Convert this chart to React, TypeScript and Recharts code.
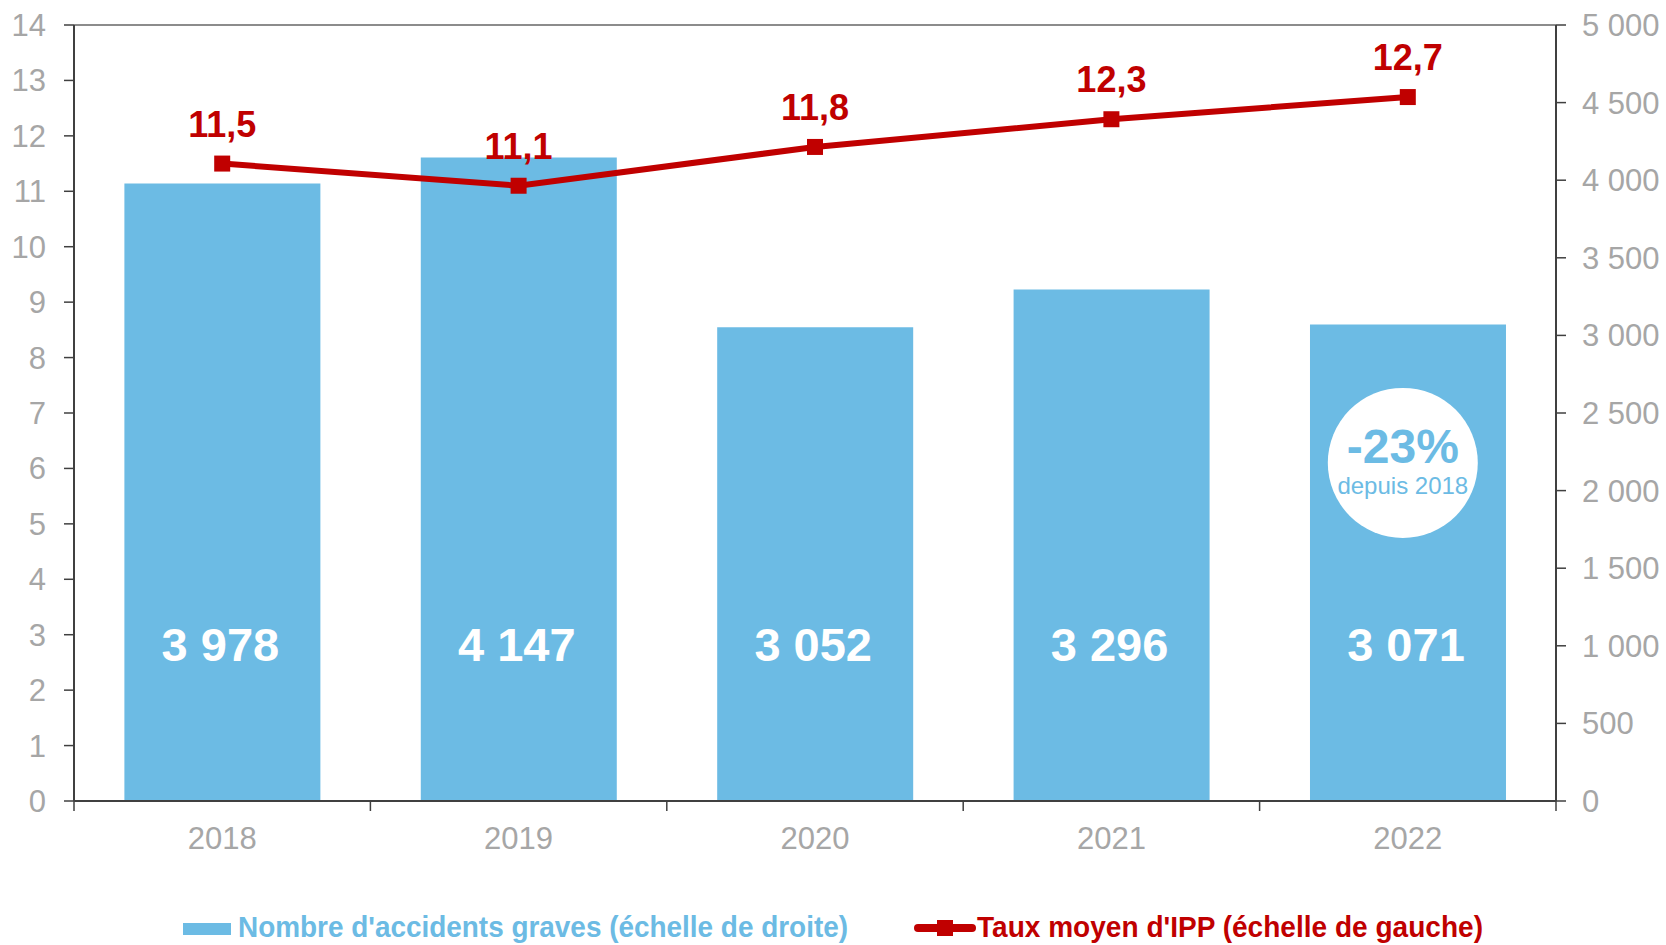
import {
  ComposedChart,
  Bar,
  Line,
  XAxis,
  YAxis,
  Legend,
  LabelList,
  ReferenceLine,
  ReferenceDot,
} from "recharts";

const years = ["2018", "2019", "2020", "2021", "2022"];
const accidents = [3978, 4147, 3052, 3296, 3071];
const ippRate = [11.5, 11.1, 11.8, 12.3, 12.7];
const leftTicks = [0, 1, 2, 3, 4, 5, 6, 7, 8, 9, 10, 11, 12, 13, 14];
const rightTicks = [0, 500, 1000, 1500, 2000, 2500, 3000, 3500, 4000, 4500, 5000];
const badgeMain = "-23%";
const badgeSub = "depuis 2018";

const BLUE = "#6cbbe4";
const RED = "#c00000";
const GREY = "#a6a6a6";
const AXIS = "#404040";
const FONT = "'Liberation Sans', Arial, sans-serif";

const W = 1666;
const H = 945;
const BAND = (1556 - 74) / years.length;

const data = years.map((year, i) => ({
  year,
  accidents: accidents[i],
  ipp: ippRate[i],
}));

const thousands = (v: number) =>
  String(v).replace(/\B(?=(\d{3})+(?!\d))/g, " ");
const comma = (v: number) => v.toFixed(1).replace(".", ",");

const XTick = (props: any) => {
  const { x, y, payload, index } = props;
  const left = x - BAND / 2;
  return (
    <g>
      <line x1={left} x2={left} y1={y} y2={y + 10} stroke={AXIS} strokeWidth={1.5} />
      {index === years.length - 1 && (
        <line x1={left + BAND} x2={left + BAND} y1={y} y2={y + 10} stroke={AXIS} strokeWidth={1.5} />
      )}
      <text
        x={x}
        y={y + 37}
        textAnchor="middle"
        dominantBaseline="central"
        fill={GREY}
        fontSize={31}
        fontFamily={FONT}
      >
        {payload.value}
      </text>
    </g>
  );
};

const BarLabel = (props: any) => {
  const x = Number(props.x);
  const y = Number(props.y);
  const width = Number(props.width);
  const height = Number(props.height);
  return (
    <text
      x={x + width / 2 - 2}
      y={y + height - 157}
      textAnchor="middle"
      dominantBaseline="central"
      fill="#ffffff"
      fontSize={47}
      fontWeight="bold"
      fontFamily={FONT}
    >
      {thousands(Number(props.value))}
    </text>
  );
};

const LineLabel = (props: any) => (
  <text
    x={Number(props.x)}
    y={Number(props.y) - 27}
    textAnchor="middle"
    fill={RED}
    fontSize={36}
    fontWeight="bold"
    fontFamily={FONT}
  >
    {comma(Number(props.value))}
  </text>
);

const SquareDot = (props: any) => {
  const { cx, cy, index } = props;
  return <rect key={`sq-${index}`} x={cx - 8} y={cy - 8} width={16} height={16} fill={RED} />;
};

const Badge = (props: any) => {
  const cx = props.cx - 5;
  const cy = props.cy;
  return (
    <g>
      <circle cx={cx} cy={cy} r={75} fill="#ffffff" />
      <text
        x={cx}
        y={cy - 16}
        textAnchor="middle"
        dominantBaseline="central"
        fill={BLUE}
        fontSize={48}
        fontWeight="bold"
        fontFamily={FONT}
      >
        {badgeMain}
      </text>
      <text
        x={cx}
        y={cy + 23}
        textAnchor="middle"
        dominantBaseline="central"
        fill={BLUE}
        fontSize={24}
        fontFamily={FONT}
      >
        {badgeSub}
      </text>
    </g>
  );
};

const LegendContent = () => (
  <svg width={W} height={82} style={{ display: "block" }}>
    <rect x={183} y={60} width={48} height={12} fill={BLUE} />
    <text
      x={238}
      y={64}
      textLength={610}
      lengthAdjust="spacingAndGlyphs"
      dominantBaseline="central"
      fill={BLUE}
      fontSize={29}
      fontWeight="bold"
      fontFamily={FONT}
    >
      Nombre d'accidents graves (échelle de droite)
    </text>
    <line x1={918} x2={972} y1={65} y2={65} stroke={RED} strokeWidth={8} strokeLinecap="round" />
    <rect x={937} y={57} width={16} height={16} fill={RED} />
    <text
      x={977}
      y={64}
      textLength={506}
      lengthAdjust="spacingAndGlyphs"
      dominantBaseline="central"
      fill={RED}
      fontSize={29}
      fontWeight="bold"
      fontFamily={FONT}
    >
      Taux moyen d'IPP (échelle de gauche)
    </text>
  </svg>
);

export default function App() {
  return (
    <div style={{ position: "absolute", left: 0, top: 0, width: W, height: H, background: "#fff" }}>
      <ComposedChart
        width={W}
        height={H}
        data={data}
        margin={{ top: 25, right: 0, bottom: 0, left: 0 }}
        barCategoryGap="17%"
      >
        <XAxis
          dataKey="year"
          height={62}
          tickLine={false}
          tickSize={0}
          tickMargin={0}
          axisLine={{ stroke: AXIS, strokeWidth: 2 }}
          tick={<XTick />}
          interval={0}
        />
        <YAxis
          yAxisId="left"
          orientation="left"
          width={74}
          domain={[0, 14]}
          ticks={leftTicks}
          interval={0}
          tickSize={10}
          tickMargin={18}
          axisLine={{ stroke: AXIS, strokeWidth: 2 }}
          tickLine={{ stroke: AXIS, strokeWidth: 1.5 }}
          tick={{ fill: GREY, fontSize: 31, fontFamily: FONT }}
        />
        <YAxis
          yAxisId="right"
          orientation="right"
          width={110}
          domain={[0, 5000]}
          ticks={rightTicks}
          interval={0}
          tickSize={10}
          tickMargin={16}
          tickFormatter={thousands}
          axisLine={{ stroke: AXIS, strokeWidth: 2 }}
          tickLine={{ stroke: AXIS, strokeWidth: 1.5 }}
          tick={{ fill: GREY, fontSize: 31, fontFamily: FONT, textAnchor: "start" }}
        />
        <ReferenceLine yAxisId="left" y={14} stroke="#8c8c8c" strokeWidth={2} />
        <Legend verticalAlign="bottom" height={82} content={<LegendContent />} wrapperStyle={{ left: 0, width: W }} />
        <Bar yAxisId="right" dataKey="accidents" fill={BLUE} isAnimationActive={false}>
          <LabelList dataKey="accidents" content={<BarLabel />} />
        </Bar>
        <ReferenceDot yAxisId="left" x="2022" y={6.1} r={75} shape={<Badge />} />
        <Line
          yAxisId="left"
          dataKey="ipp"
          stroke={RED}
          strokeWidth={6}
          dot={<SquareDot />}
          activeDot={false}
          isAnimationActive={false}
        >
          <LabelList dataKey="ipp" content={<LineLabel />} />
        </Line>
      </ComposedChart>
    </div>
  );
}
